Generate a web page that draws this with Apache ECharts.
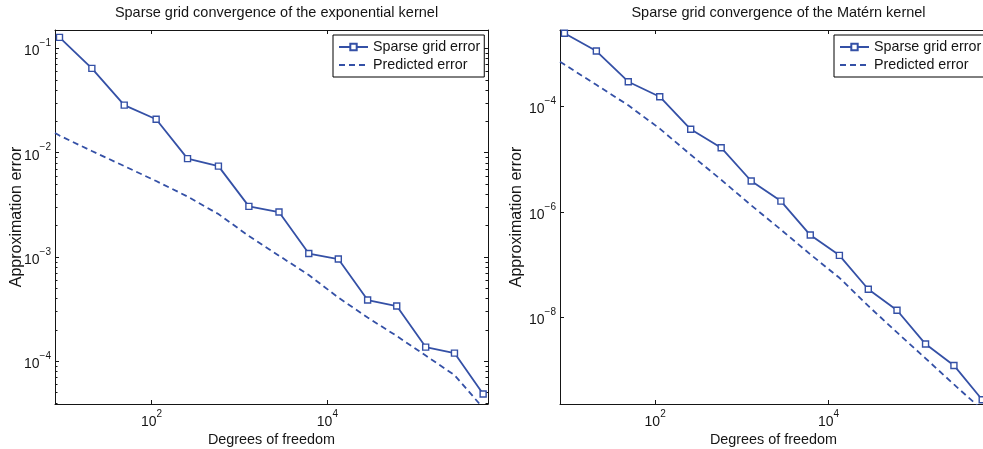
<!DOCTYPE html>
<html>
<head>
<meta charset="utf-8">
<script src="https://cdn.jsdelivr.net/npm/echarts@6/dist/echarts.min.js"></script>
<style>
  html, body { margin: 0; padding: 0; background: #fff; }
  #chart { width: 983px; height: 449px; }
</style>
</head>
<body>
<div id="chart"></div>
<script>
// Degrees of freedom of the sparse grid at each level
const dof = [9, 21, 49, 113, 257, 577, 1281, 2817, 6145, 13313, 28673, 61441, 131073, 278529, 589825];
// The predicted-error curve starts at the left edge of the axis
const predDof = [8, 9, 21, 49, 113, 257, 577, 1281, 2817, 6145, 13313, 28673, 61441, 131073, 278529, 589825];

// Exponential kernel
const expSparse = [0.1274, 0.0643, 0.0286, 0.0209, 0.00878, 0.00744, 0.00306, 0.0027, 0.00108, 0.000956,
                   0.000387, 0.000339, 0.000137, 0.00012, 4.87e-5];
const expPred = [0.01542, 0.01459, 0.01037, 0.00744, 0.00535, 0.0038, 0.00258, 0.00159, 0.00103, 0.000672,
                 0.000409, 0.000263, 0.000175, 0.0001136, 7.39e-5, 3.57e-5];

// Matérn kernel
const matSparse = [2.457e-3, 1.132e-3, 2.96e-4, 1.535e-4, 3.69e-5, 1.65e-5, 3.85e-6, 1.6e-6, 3.62e-7, 1.49e-7,
                   3.38e-8, 1.35e-8, 3.08e-9, 1.21e-9, 2.7e-10];
const matPred = [7.1e-4, 6.28e-4, 2.58e-4, 1.054e-4, 3.8e-5, 1.215e-5, 4.06e-6, 1.33e-6, 4.59e-7, 1.56e-7,
                 5.58e-8, 1.63e-8, 5.12e-9, 1.65e-9, 5.27e-10, 1.74e-10];

// Axis limits and ticks
const xLim = [8, 6.7e5];
const expYLim = [3.9e-5, 0.15];
const matYLim = [2.24e-10, 2.84e-3];
const xTicks = [1e2, 1e4];
const expYTicks = [1e-4, 1e-3, 1e-2, 1e-1];
const matYTicks = [1e-8, 1e-6, 1e-4];

const titles = ['Sparse grid convergence of the exponential kernel', 'Sparse grid convergence of the Matérn kernel'];
const xName = 'Degrees of freedom';
const yName = 'Approximation error';
const seriesNames = ['Sparse grid error', 'Predicted error'];

const BLUE = '#3450a6';
const INK = '#151515';
const FONT = '"Liberation Sans", Arial, Helvetica, sans-serif';

// minor ticks 2..9 x 10^k inside a range
function minorTicks(lim) {
  const out = [];
  for (let k = Math.floor(Math.log10(lim[0])); k <= Math.ceil(Math.log10(lim[1])); k++) {
    for (let m = 2; m <= 9; m++) {
      const v = m * Math.pow(10, k);
      if (v >= lim[0] && v <= lim[1]) out.push(v);
    }
  }
  return out;
}

function powLabel(v) {
  const e = Math.round(Math.log10(v));
  return '{b|10}{s|' + String(e).replace('-', '\u2212') + '}';
}
const labelRich = {
  b: { fontSize: 14, fontFamily: FONT, color: INK, lineHeight: 20, verticalAlign: 'bottom' },
  s: { fontSize: 10, fontFamily: FONT, color: INK, lineHeight: 10, verticalAlign: 'top' }
};

const grids = [
  { left: 55, top: 30, width: 433, height: 374, containLabel: false, outerBoundsMode: 'none' },
  { left: 560, top: 30, width: 427, height: 374, containLabel: false, outerBoundsMode: 'none' }
];

function xAxes(g) {
  const common = {
    type: 'log', logBase: 10, gridIndex: g, min: xLim[0], max: xLim[1],
    splitLine: { show: false }, minorTick: { show: false },
    axisLine: { show: true, lineStyle: { color: INK, width: 1 } }
  };
  return [
    Object.assign({}, common, {
      position: 'bottom',
      name: xName, nameLocation: 'middle', nameGap: 29, nameMoveOverlap: false,
      nameTextStyle: { fontSize: 14.4, fontFamily: FONT, color: INK },
      axisTick: { show: true, inside: true, length: 4, customValues: xTicks, lineStyle: { color: INK } },
      axisLabel: { show: true, margin: 5, customValues: xTicks, formatter: powLabel, rich: labelRich }
    }),
    Object.assign({}, common, {
      position: 'top',
      axisTick: { show: true, inside: true, length: 4, customValues: xTicks, lineStyle: { color: INK } },
      axisLabel: { show: false }
    })
  ];
}

function yAxes(g, lim, ticks, minor, gap) {
  const common = {
    type: 'log', logBase: 10, gridIndex: g, min: lim[0], max: lim[1],
    splitLine: { show: false }, minorTick: { show: false }
  };
  const list = [
    Object.assign({}, common, {
      position: 'left',
      name: yName, nameLocation: 'middle', nameGap: gap, nameRotate: 90, nameMoveOverlap: false,
      nameTextStyle: { fontSize: 16, fontFamily: FONT, color: INK },
      axisLine: { show: true, lineStyle: { color: INK, width: 1 } },
      axisTick: { show: true, inside: true, length: 4, customValues: ticks, lineStyle: { color: INK } },
      axisLabel: { show: true, margin: 4, customValues: ticks, formatter: powLabel, rich: labelRich }
    }),
    Object.assign({}, common, {
      position: 'right',
      axisLine: { show: true, lineStyle: { color: INK, width: 1 } },
      axisTick: { show: true, inside: true, length: 4, customValues: ticks, lineStyle: { color: INK } },
      axisLabel: { show: false }
    })
  ];
  if (minor.length) {
    ['left', 'right'].forEach(function (pos) {
      list.push(Object.assign({}, common, {
        position: pos,
        axisLine: { show: false },
        axisTick: { show: true, inside: true, length: 2.5, customValues: minor, lineStyle: { color: INK } },
        axisLabel: { show: false }
      }));
    });
  }
  return list;
}

const yAxisList = [].concat(
  yAxes(0, expYLim, expYTicks, minorTicks(expYLim), 30),
  yAxes(1, matYLim, matYTicks, [], 35)
);
// index of the first y axis of the second grid
const matYIndex = yAxisList.findIndex(a => a.gridIndex === 1);

function sparseSeries(xi, yi, ys) {
  return {
    type: 'line', name: seriesNames[0], xAxisIndex: xi, yAxisIndex: yi,
    data: dof.map((d, i) => [d, ys[i]]),
    symbol: 'rect', symbolSize: 6, showSymbol: true,
    lineStyle: { color: BLUE, width: 1.8 },
    itemStyle: { color: '#ffffff', borderColor: BLUE, borderWidth: 1.4 },
    z: 3
  };
}
function predSeries(xi, yi, ys) {
  return {
    type: 'line', name: seriesNames[1], xAxisIndex: xi, yAxisIndex: yi,
    data: predDof.map((d, i) => [d, ys[i]]),
    symbol: 'none', clip: true,
    lineStyle: { color: BLUE, width: 1.8, type: [6, 4] },
    itemStyle: { color: BLUE },
    z: 2
  };
}

function legendAt(left) {
  return {
    orient: 'vertical', left: left, top: 35,
    itemWidth: 29, itemHeight: 8, itemGap: 4, padding: [5, 4, 5, 5],
    borderColor: '#000', borderWidth: 1, backgroundColor: '#fff',
    selectedMode: false,
    textStyle: { fontSize: 14.3, fontFamily: FONT, color: INK, lineHeight: 14 },
    data: [
      { name: seriesNames[0] },
      { name: seriesNames[1], itemStyle: { opacity: 0 } }
    ]
  };
}

const chart = echarts.init(document.getElementById('chart'), null, { renderer: 'canvas' });
chart.setOption({
  animation: false,
  backgroundColor: '#fff',
  title: [
    { text: titles[0], left: 271.5, top: 0, textAlign: 'center',
      textStyle: { fontSize: 14.5, fontWeight: 'normal', fontFamily: FONT, color: INK } },
    { text: titles[1], left: 773.5, top: 0, textAlign: 'center',
      textStyle: { fontSize: 14.5, fontWeight: 'normal', fontFamily: FONT, color: INK } }
  ],
  legend: [legendAt(333), legendAt(834)],
  grid: grids,
  xAxis: [].concat(xAxes(0), xAxes(1)),
  yAxis: yAxisList,
  series: [
    predSeries(0, 0, expPred),
    sparseSeries(0, 0, expSparse),
    predSeries(2, matYIndex, matPred),
    sparseSeries(2, matYIndex, matSparse)
  ]
});
</script>
</body>
</html>
